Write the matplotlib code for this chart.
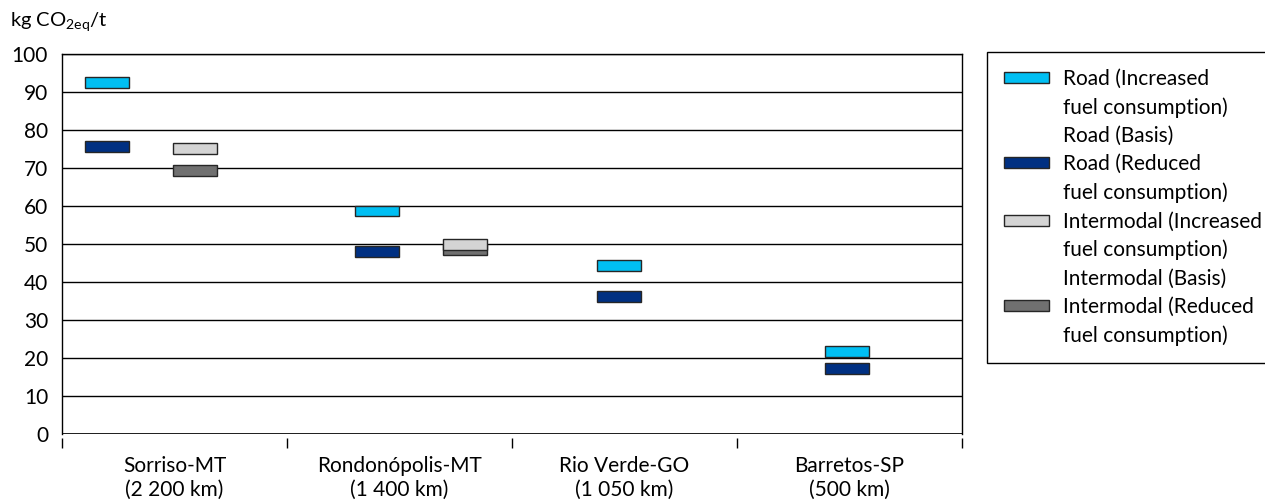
import numpy as np
import matplotlib.pyplot as plt
from matplotlib.patches import Patch

plt.rcParams['font.family'] = ['Lato', 'DejaVu Sans']

# data (kg CO2eq / t)
routes = ['Sorriso-MT\n(2 200 km)', 'Rondonópolis-MT\n(1 400 km)',
          'Rio Verde-GO\n(1 050 km)', 'Barretos-SP\n(500 km)']
road_increased = [92.5, 58.7, 44.3, 21.7]
road_reduced = [75.6, 48.0, 36.2, 17.2]
inter_increased = [75.1, 49.8]
inter_reduced = [69.3, 48.5]

# x placement of the boxes inside each category slot
road_x = np.array([0.20, 1.40, 2.475, 3.49])
inter_x = np.array([0.59, 1.79])
box_w = 0.196
box_h = 2.8

c_road_inc = '#00BFF3'
c_road_red = '#003082'
c_int_inc = '#D4D4D4'
c_int_red = '#707070'
edge = '#262626'

fig = plt.figure(figsize=(12.65, 5.03), dpi=100)
ax = fig.add_axes([62/1265, 1-434/503, 900/1265, 380/503])

def boxes(x, vals, color):
    vals = np.asarray(vals)
    ax.bar(x, np.full(len(vals), box_h), bottom=vals - box_h/2, width=box_w,
           color=color, edgecolor=edge, linewidth=1, zorder=3)

boxes(road_x, road_reduced, c_road_red)
boxes(road_x, road_increased, c_road_inc)
boxes(inter_x, inter_reduced, c_int_red)
boxes(inter_x, inter_increased, c_int_inc)

ax.set_xlim(0, 4)
ax.set_ylim(0, 100)
ax.set_yticks(np.arange(0, 101, 10))
ax.yaxis.grid(True, color='black', linewidth=1)
ax.set_axisbelow(True)
ax.tick_params(axis='y', length=0, pad=10, labelsize=15)

ax.set_xticks(np.arange(0.5, 4, 1))
ax.set_xticks(np.arange(0, 5, 1), minor=True)
ax.tick_params(axis='x', which='major', length=0, pad=13, labelsize=15)
ax.tick_params(axis='x', which='minor', length=7, width=1, direction='out')
ax.set_xticklabels(routes, linespacing=1.65)
ax.spines['bottom'].set_position(('outward', 3))
ax.spines['bottom'].set_visible(False)
ax.axhline(0, color='black', linewidth=1.2, zorder=2)
for s in ['top', 'left', 'right']:
    ax.spines[s].set_linewidth(1)

fig.text(10/1265, 1-22/503, r'kg CO$_\mathregular{2eq}$/t', fontsize=14.5, va='center')

blank = Patch(facecolor='none', edgecolor='none')
handles = [Patch(facecolor=c_road_inc, edgecolor=edge), blank, blank,
           Patch(facecolor=c_road_red, edgecolor=edge), blank,
           Patch(facecolor=c_int_inc, edgecolor=edge), blank, blank,
           Patch(facecolor=c_int_red, edgecolor=edge), blank]
labels = ['Road (Increased', 'fuel consumption)', 'Road (Basis)',
          'Road (Reduced', 'fuel consumption)',
          'Intermodal (Increased', 'fuel consumption)', 'Intermodal (Basis)',
          'Intermodal (Reduced', 'fuel consumption)']
leg = fig.legend(handles, labels, loc='upper left',
                 bbox_to_anchor=(987/1265, 1-52/503), borderaxespad=0,
                 fontsize=15, handlelength=2.16, handleheight=0.43,
                 handletextpad=0.67, labelspacing=0.40, borderpad=0.8,
                 fancybox=False, framealpha=1, edgecolor='black')
leg.get_frame().set_linewidth(1)

fig.savefig('out.png', dpi=100)
